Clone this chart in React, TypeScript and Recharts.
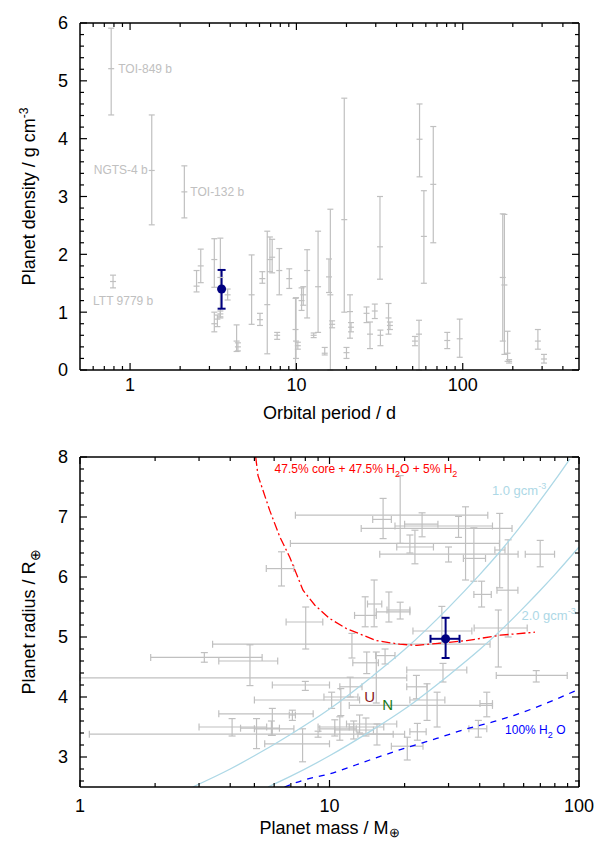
import React from "react";
import { ComposedChart, Scatter, Line, XAxis, YAxis, ErrorBar } from "recharts";

const FONT = "'Liberation Sans', Arial, Helvetica, sans-serif";
const GREY = "#c0c0c0";
const NAVY = "#000080";
const AXIS_LINE = { stroke: "#000", strokeWidth: 1.5 };

// ---- top panel: orbital period vs bulk density ----
const periods = [0.77, 1.35, 2.12, 0.79, 2.51, 2.66, 3.21, 3.49, 3.21, 3.35, 3.49, 3.86, 4.37, 4.45, 5.38, 6.04, 6.24, 6.68, 6.93, 7.15, 7.66, 7.89, 9.06, 9.88, 9.95, 10.2, 10.74, 11.0, 11.6, 12.7, 13.5, 14.8, 15.7, 16.0, 16.4, 19.4, 20.0, 21.0, 21.3, 26.4, 27.7, 29.6, 31.8, 32.0, 35.8, 36.5, 51.6, 54.6, 55.0, 58.4, 66.5, 80.7, 95.9, 174, 178, 186, 190, 283, 308];
const densities = [5.21, 3.45, 3.08, 1.53, 1.45, 1.8, 1.91, 1.6, 0.8, 0.88, 0.97, 1.3, 0.5, 0.4, 1.3, 0.87, 1.58, 1.13, 1.91, 1.95, 0.6, 1.72, 1.58, 0.7, 0.5, 0.42, 1.2, 1.3, 1.72, 0.6, 1.44, 0.29, 1.61, 1.3, 0.79, 2.6, 0.3, 1.01, 0.74, 0.98, 0.62, 1.02, 2.13, 0.6, 0.9, 0.77, 0.5, 0.62, 3.99, 2.31, 3.21, 0.51, 0.54, 1.6, 1.47, 0.29, 0.15, 0.5, 0.19];
const densLow = [4.41, 2.51, 2.63, 1.42, 1.35, 1.51, 1.43, 0.92, 0.66, 0.75, 0.9, 1.21, 0.32, 0.33, 0.79, 0.77, 1.5, 0.28, 1.7, 1.68, 0.53, 1.3, 1.41, 0.0, 0.2, 0.36, 1.03, 1.12, 0.9, 0.56, 0.65, 0.26, 1.34, 0.0, 0.73, 1.0, 0.2, 0.55, 0.66, 0.82, 0.37, 0.89, 1.57, 0.42, 0.62, 0.7, 0.42, 0.0, 3.34, 1.5, 2.2, 0.37, 0.22, 0.5, 0.27, 0.15, 0.12, 0.36, 0.12];
const densHigh = [5.91, 4.41, 3.53, 1.64, 1.72, 2.09, 2.27, 2.28, 1.0, 0.95, 1.02, 1.4, 0.78, 0.47, 1.99, 0.98, 1.7, 2.4, 2.3, 2.26, 0.65, 2.1, 1.75, 1.24, 1.25, 0.48, 1.42, 1.44, 2.08, 0.64, 2.4, 0.39, 1.92, 2.78, 0.85, 4.7, 0.39, 1.3, 0.82, 1.09, 0.83, 1.14, 3.0, 0.69, 1.15, 0.83, 0.58, 0.86, 4.6, 3.1, 4.21, 0.65, 0.88, 2.7, 2.69, 0.67, 0.18, 0.7, 0.27];
// first four entries are the labelled planets
const planetNames = ["TOI-849 b", "NGTS-4 b", "TOI-132 b", "LTT 9779 b"];

const targetPeriod = [3.55];
const targetDensity = [1.4];
const targetDensLow = [1.06];
const targetDensHigh = [1.73];

const periodTicks = [0.6, 0.7, 0.8, 0.9, 1, 2, 3, 4, 5, 6, 7, 8, 9, 10, 20, 30, 40, 50, 60, 70, 80, 90, 100, 200, 300, 400];
const densityTicks = [0, 0.2, 0.4, 0.6, 0.8, 1, 1.2, 1.4, 1.6, 1.8, 2, 2.2, 2.4, 2.6, 2.8, 3, 3.2, 3.4, 3.6, 3.8, 4, 4.2, 4.4, 4.6, 4.8, 5, 5.2, 5.4, 5.6, 5.8, 6];

// ---- bottom panel: mass vs radius ----
const masses = [6.42, 8.03, 19.2, 16.4, 23.5, 22.0, 35.1, 32.9, 37.9, 40.7, 48.1, 52.0, 69.9, 13.9, 17.3, 15.1, 19.2, 28.2, 12.3, 14.1, 16.7, 15.4, 28.5, 67.4, 22.3, 24.6, 27.0, 42.7, 39.5, 22.5, 20.5, 11.0, 13.2, 3.15, 4.8, 8.0, 10.2, 5.9, 7.1, 4.07, 5.1, 5.85, 9.0, 7.8, 11.1, 12.1, 10.5, 12.5, 14.0, 15.5, 47.5, 21.0, 30.0];
const massLow = [5.58, 6.7, 7.3, 14.9, 20.0, 18.6, 13.4, 18.3, 34.4, 37.9, 46.0, 46.9, 60.9, 12.6, 15.4, 14.2, 17.0, 21.6, 3.4, 12.4, 15.3, 1.0, 20.4, 46.6, 20.4, 21.0, 12.0, 40.1, 36.2, 21.0, 17.7, 9.14, 11.7, 1.92, 3.6, 5.9, 5.0, 3.6, 6.9, 3.0, 4.4, 5.0, 1.09, 5.5, 9.5, 11.0, 9.0, 10.5, 12.0, 13.0, 38.0, 6.97, 15.9];
const massHigh = [7.2, 9.4, 43.1, 17.7, 27.2, 26.1, 53.9, 45.0, 42.2, 44.5, 50.5, 56.9, 79.8, 15.4, 21.0, 16.2, 21.0, 37.2, 44.0, 15.7, 18.3, 20.4, 35.5, 89.7, 24.6, 29.0, 45.0, 45.0, 42.7, 24.4, 23.7, 12.8, 18.6, 5.37, 6.2, 10.0, 13.2, 8.6, 7.3, 5.6, 6.3, 7.2, 20.0, 10.0, 13.0, 13.5, 12.5, 15.0, 16.5, 18.0, 62.0, 48.0, 57.0];
const radii = [6.14, 5.25, 7.03, 6.96, 6.88, 6.5, 6.81, 6.85, 6.31, 5.71, 6.45, 5.78, 6.38, 5.36, 5.42, 5.55, 5.45, 5.1, 4.88, 4.57, 4.69, 4.32, 4.45, 4.36, 4.17, 3.95, 3.86, 3.89, 3.47, 3.42, 3.18, 3.47, 3.55, 4.66, 4.6, 4.2, 3.95, 3.72, 3.7, 3.5, 3.48, 3.47, 3.38, 3.22, 4.0, 4.17, 3.5, 3.45, 3.5, 3.38, 5.15, 6.56, 6.38];
const radLow = [5.85, 4.8, 6.56, 6.64, 6.67, 6.22, 5.95, 6.66, 5.93, 5.5, 5.82, 5.0, 6.17, 5.17, 5.25, 5.17, 5.3, 4.9, 4.65, 4.39, 4.55, 3.9, 4.25, 4.25, 3.97, 3.61, 3.5, 3.67, 3.33, 3.28, 2.95, 3.28, 3.4, 4.58, 4.19, 4.11, 3.81, 3.36, 3.61, 3.35, 3.14, 3.36, 3.33, 2.92, 3.69, 4.0, 3.35, 3.3, 3.35, 3.2, 4.5, 6.4, 6.25];
const radHigh = [6.42, 5.5, 7.69, 7.31, 7.07, 6.78, 7.17, 7.01, 6.82, 5.93, 7.06, 6.62, 6.61, 5.67, 5.75, 5.95, 5.58, 5.51, 5.06, 4.75, 4.8, 4.75, 4.56, 4.44, 4.36, 4.22, 4.08, 4.08, 3.61, 3.56, 3.33, 3.67, 3.7, 4.74, 4.87, 4.26, 4.08, 3.81, 3.78, 3.64, 3.64, 3.6, 3.43, 3.47, 4.14, 4.33, 3.62, 3.6, 3.65, 3.55, 5.45, 6.7, 6.5];

const targetMass = [29.2];
const targetMassLow = [25.4];
const targetMassHigh = [33.2];
const targetRadius = [4.97];
const targetRadLow = [4.65];
const targetRadHigh = [5.32];

const solarNames = ["U", "N"];
const solarMass = [14.5, 17.1];
const solarRadius = [4.01, 3.88];

// model curves
const rho1Mass = [2.83, 4, 5, 7, 10, 15, 20, 30, 40, 50, 60, 70, 80, 92];
const rho1Radius = [2.5, 2.8, 3.02, 3.38, 3.8, 4.36, 4.79, 5.49, 6.04, 6.5, 6.91, 7.28, 7.61, 7.97];
const rho2Mass = [5.67, 7, 10, 15, 20, 30, 40, 50, 60, 70, 80, 100];
const rho2Radius = [2.5, 2.68, 3.02, 3.46, 3.8, 4.36, 4.79, 5.16, 5.49, 5.78, 6.04, 6.5];
const waterMass = [6.6, 7.8, 10, 14.5, 19.8, 26.9, 35.5, 48.3, 65.6, 100];
const waterRadius = [2.5, 2.61, 2.72, 2.95, 3.14, 3.31, 3.47, 3.62, 3.81, 4.13];
const mixMass = [5.06, 5.17, 5.76, 6.32, 6.93, 7.83, 8.74, 10, 11.7, 15.4, 19.1, 22.4, 35.5, 48.3, 66.6];
const mixRadius = [8.0, 7.69, 7.11, 6.67, 6.33, 5.78, 5.53, 5.31, 5.14, 4.94, 4.88, 4.86, 4.94, 5.03, 5.08];

const massTicks = [1, 2, 3, 4, 5, 6, 7, 8, 9, 10, 20, 30, 40, 50, 60, 70, 80, 90, 100];
const radiusTicks = [2.6, 2.8, 3, 3.2, 3.4, 3.6, 3.8, 4, 4.2, 4.4, 4.6, 4.8, 5, 5.2, 5.4, 5.6, 5.8, 6, 6.2, 6.4, 6.6, 6.8, 7, 7.2, 7.4, 7.6, 7.8, 8];

// ---- tables for the library ----
const densityRows = periods.map((p, i) => ({
  x: p,
  y: densities[i],
  ey: [densities[i] - densLow[i], densHigh[i] - densities[i]],
}));
const namedRows = planetNames.map((name, i) => ({ x: periods[i], y: densities[i], name }));
const targetDensityRows = targetPeriod.map((p, i) => ({
  x: p,
  y: targetDensity[i],
  ey: [targetDensity[i] - targetDensLow[i], targetDensHigh[i] - targetDensity[i]],
}));

const radiusRows = masses.map((m, i) => ({
  x: m,
  y: radii[i],
  ex: [m - massLow[i], massHigh[i] - m],
  ey: [radii[i] - radLow[i], radHigh[i] - radii[i]],
}));
const targetRadiusRows = targetMass.map((m, i) => ({
  x: m,
  y: targetRadius[i],
  ex: [m - targetMassLow[i], targetMassHigh[i] - m],
  ey: [targetRadius[i] - targetRadLow[i], targetRadHigh[i] - targetRadius[i]],
}));
const solarRows = solarNames.map((name, i) => ({ x: solarMass[i], y: solarRadius[i], name }));
const toCurve = (xs: number[], ys: number[]) => xs.map((x, i) => ({ x, y: ys[i] }));

// label placement for the named planets (pixels relative to the point)
const namePlacement = [
  { dx: 7, dy: 4, anchor: "start" },
  { dx: -4, dy: 4, anchor: "end" },
  { dx: 6, dy: 4, anchor: "start" },
  { dx: -20, dy: 23, anchor: "start" },
];

const isDecade = (v: number) => Math.abs(Math.log10(v) - Math.round(Math.log10(v))) < 1e-6;
const isWhole = (v: number) => Math.abs(v - Math.round(v)) < 1e-6;

type Side = "bottom" | "top" | "left" | "right";

function makeTick(side: Side, isMajor: (v: number) => boolean, withLabel: boolean, gap = 0) {
  return (props: any) => {
    const { x, y, payload } = props;
    const v = Number(payload.value);
    const major = isMajor(v);
    const len = major ? 7 : 4;
    const d =
      side === "bottom" ? [0, -len] : side === "top" ? [0, len] : side === "left" ? [len, 0] : [-len, 0];
    const text = String(Math.round(v * 1000) / 1000);
    return (
      <g>
        <line x1={x} y1={y} x2={x + d[0]} y2={y + d[1]} stroke="#000" strokeWidth={1.2} />
        {withLabel && major && side === "bottom" && (
          <text x={x} y={y + gap} textAnchor="middle" fontFamily={FONT} fontSize={18} fill="#000">
            {text}
          </text>
        )}
        {withLabel && major && side === "left" && (
          <text x={x - gap} y={y} dy="0.36em" textAnchor="end" fontFamily={FONT} fontSize={18} fill="#000">
            {text}
          </text>
        )}
      </g>
    );
  };
}

const GreyCross = (p: any) => (
  <line x1={p.cx - 3} y1={p.cy} x2={p.cx + 3} y2={p.cy} stroke={GREY} strokeWidth={1.2} />
);
const Nothing = () => <g />;
const NavyDot = (p: any) => <circle cx={p.cx} cy={p.cy} r={4.5} fill={NAVY} />;

function NameLabel(p: any) {
  const i = planetNames.indexOf(p.payload?.name);
  const pl = namePlacement[i] || namePlacement[0];
  return (
    <text x={p.cx + pl.dx} y={p.cy + pl.dy} textAnchor={pl.anchor} fontFamily={FONT} fontSize={12} fill={GREY}>
      {p.payload?.name}
    </text>
  );
}

function SolarLabel(p: any) {
  const name = p.payload?.name;
  return (
    <text x={p.cx} y={p.cy} dy="0.36em" textAnchor="middle" fontFamily={FONT} fontSize={15}
      fill={name === "U" ? "#8b1a1a" : "#1a7a1a"}>
      {name}
    </text>
  );
}

// curve captions, anchored in data units
const mixCaption = [{ x: 14.0, y: 7.81 }];
const rho1Caption = [{ x: 57.5, y: 7.45 }];
const rho2Caption = [{ x: 75.5, y: 5.36 }];
const waterCaption = [{ x: 66.8, y: 3.45 }];

const MixText = (p: any) => (
  <text x={p.cx} y={p.cy} dy="0.36em" textAnchor="middle" fontFamily={FONT} fontSize={12} fill="#ff0000">
    47.5% core + 47.5% H<tspan dy={4} fontSize={9}>2</tspan>
    <tspan dy={-4}>O + 5% H</tspan>
    <tspan dy={4} fontSize={9}>2</tspan>
  </text>
);
const DensText = (label: string) => (p: any) => (
  <text x={p.cx} y={p.cy} dy="0.36em" textAnchor="middle" fontFamily={FONT} fontSize={13} fill="#add8e6">
    {label} gcm<tspan dy={-6} fontSize={9}>-3</tspan>
  </text>
);
const WaterText = (p: any) => (
  <text x={p.cx} y={p.cy} dy="0.36em" textAnchor="middle" fontFamily={FONT} fontSize={12} fill="#0000ff">
    100% H<tspan dy={4} fontSize={9}>2</tspan>
    <tspan dy={-4}> O</tspan>
  </text>
);

const XTitle = (title: React.ReactNode, dy: number) => (p: any) => {
  const vb = p.viewBox || {};
  return (
    <text x={vb.x + vb.width / 2} y={vb.y + dy} textAnchor="middle" fontFamily={FONT} fontSize={18} fill="#000">
      {title}
    </text>
  );
};
const YTitle = (title: React.ReactNode) => (p: any) => {
  const vb = p.viewBox || {};
  const cy = vb.y + vb.height / 2;
  return (
    <text x={35} y={cy} transform={`rotate(-90 35 ${cy})`} textAnchor="middle" fontFamily={FONT} fontSize={18} fill="#000">
      {title}
    </text>
  );
};

export default function App() {
  // axes need a non-zero box to be drawn; a 1px box keeps the lines on the plot frame
  const common = { type: "number" as const, allowDataOverflow: true, interval: 0 as const, tickSize: 0, tickMargin: 0, tickLine: false, axisLine: AXIS_LINE };
  return (
    <div style={{ position: "absolute", left: 0, top: 0, width: 599, height: 842, background: "#fff" }}>
      <ComposedChart width={599} height={430} margin={{ top: 22, right: 19, bottom: 59, left: 79 }}>
        <XAxis xAxisId="b" dataKey="x" scale="log" domain={[0.5, 500]} ticks={periodTicks} height={1} {...common}
          tick={makeTick("bottom", isDecade, true, 21)}
          label={XTitle("Orbital period / d", 49)} />
        <XAxis xAxisId="t" orientation="top" dataKey="x" scale="log" domain={[0.5, 500]} ticks={periodTicks} height={1} {...common}
          tick={makeTick("top", isDecade, false)} />
        <YAxis yAxisId="l" dataKey="y" domain={[0, 6]} ticks={densityTicks} width={1} {...common}
          tick={makeTick("left", isWhole, true, 12)}
          label={YTitle(<>Planet density / g cm<tspan dy={-7} fontSize={12}>-3</tspan></>)} />
        <YAxis yAxisId="r" orientation="right" dataKey="y" domain={[0, 6]} ticks={densityTicks} width={1} {...common}
          tick={makeTick("right", isWhole, false)} />
        <Scatter xAxisId="b" yAxisId="l" data={densityRows} shape={GreyCross} isAnimationActive={false}>
          <ErrorBar dataKey="ey" direction="y" width={3} stroke={GREY} strokeWidth={1.2} />
        </Scatter>
        <Scatter xAxisId="b" yAxisId="l" data={namedRows} shape={NameLabel} isAnimationActive={false} />
        <Scatter xAxisId="b" yAxisId="l" data={targetDensityRows} shape={NavyDot} isAnimationActive={false}>
          <ErrorBar dataKey="ey" direction="y" width={4} stroke={NAVY} strokeWidth={2} />
        </Scatter>
      </ComposedChart>

      <div style={{ position: "absolute", left: 0, top: 430 }}>
        <ComposedChart width={599} height={412} margin={{ top: 26, right: 19, bottom: 54, left: 79 }}>
          <XAxis xAxisId="b" dataKey="x" scale="log" domain={[1, 100]} ticks={massTicks} height={1} {...common}
            tick={makeTick("bottom", isDecade, true, 25)}
            label={XTitle(<>Planet mass / M<tspan dy={3} fontSize={13}>⊕</tspan></>, 47)} />
          <XAxis xAxisId="t" orientation="top" dataKey="x" scale="log" domain={[1, 100]} ticks={massTicks} height={1} {...common}
            tick={makeTick("top", isDecade, false)} />
          <YAxis yAxisId="l" dataKey="y" domain={[2.5, 8]} ticks={radiusTicks} width={1} {...common}
            tick={makeTick("left", isWhole, true, 12)}
            label={YTitle(<>Planet radius / R<tspan dy={5} fontSize={14}>⊕</tspan></>)} />
          <YAxis yAxisId="r" orientation="right" dataKey="y" domain={[2.5, 8]} ticks={radiusTicks} width={1} {...common}
            tick={makeTick("right", isWhole, false)} />
          <Scatter xAxisId="b" yAxisId="l" data={radiusRows} shape={Nothing} isAnimationActive={false}>
            <ErrorBar dataKey="ex" direction="x" width={3.5} stroke={GREY} strokeWidth={1.2} />
            <ErrorBar dataKey="ey" direction="y" width={3.5} stroke={GREY} strokeWidth={1.2} />
          </Scatter>
          <Line xAxisId="b" yAxisId="l" data={toCurve(rho1Mass, rho1Radius)} dataKey="y" type="monotone"
            stroke="#add8e6" strokeWidth={1.3} dot={false} activeDot={false} isAnimationActive={false} />
          <Line xAxisId="b" yAxisId="l" data={toCurve(rho2Mass, rho2Radius)} dataKey="y" type="monotone"
            stroke="#add8e6" strokeWidth={1.3} dot={false} activeDot={false} isAnimationActive={false} />
          <Line xAxisId="b" yAxisId="l" data={toCurve(waterMass, waterRadius)} dataKey="y" type="monotone"
            stroke="#0000ff" strokeWidth={1.3} strokeDasharray="6 6" dot={false} activeDot={false} isAnimationActive={false} />
          <Line xAxisId="b" yAxisId="l" data={toCurve(mixMass, mixRadius)} dataKey="y" type="linear"
            stroke="#ff0000" strokeWidth={1.3} strokeDasharray="9 3 2 3" dot={false} activeDot={false} isAnimationActive={false} />
          <Scatter xAxisId="b" yAxisId="l" data={solarRows} shape={SolarLabel} isAnimationActive={false} />
          <Scatter xAxisId="b" yAxisId="l" data={mixCaption} shape={MixText} isAnimationActive={false} />
          <Scatter xAxisId="b" yAxisId="l" data={rho1Caption} shape={DensText("1.0")} isAnimationActive={false} />
          <Scatter xAxisId="b" yAxisId="l" data={rho2Caption} shape={DensText("2.0")} isAnimationActive={false} />
          <Scatter xAxisId="b" yAxisId="l" data={waterCaption} shape={WaterText} isAnimationActive={false} />
          <Scatter xAxisId="b" yAxisId="l" data={targetRadiusRows} shape={NavyDot} isAnimationActive={false}>
            <ErrorBar dataKey="ex" direction="x" width={4} stroke={NAVY} strokeWidth={2} />
            <ErrorBar dataKey="ey" direction="y" width={4} stroke={NAVY} strokeWidth={2} />
          </Scatter>
        </ComposedChart>
      </div>
    </div>
  );
}
